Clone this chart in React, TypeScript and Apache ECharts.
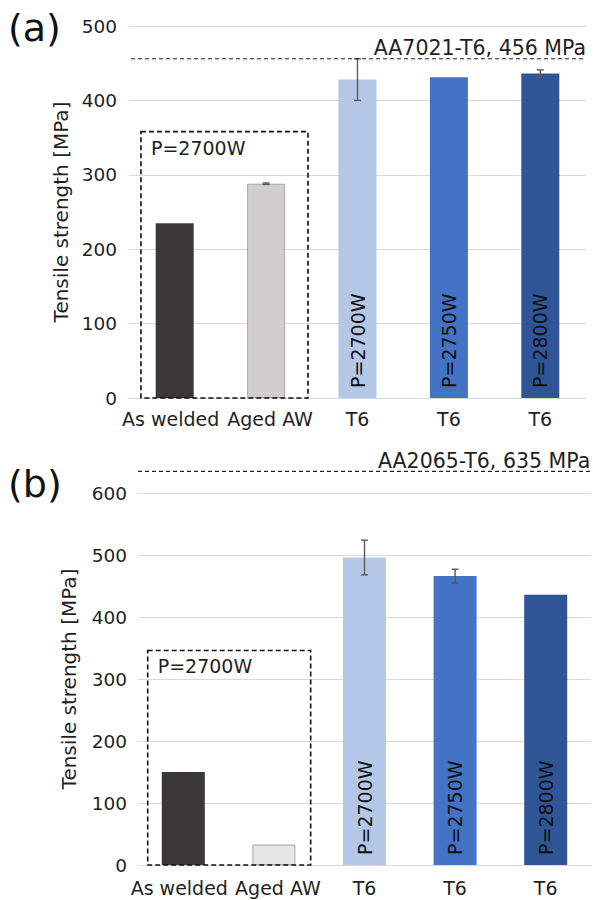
import React, { useEffect, useRef } from "react";
import * as echarts from "echarts";

// ---- data ----
const categoryKeys = ["As welded", "Aged AW", "T6 P=2700W", "T6 P=2750W", "T6 P=2800W"];
const tickLabels = ["As welded", "Aged AW", "T6", "T6", "T6"];
const barLabels = ["", "", "P=2700W", "P=2750W", "P=2800W"];

const valuesA = [235, 288, 428, 431, 436];
const errorsA = [0, 1, 28, 0, 5];
const valuesB = [150, 33, 496, 466, 436];
const errorsB = [0, 0, 28, 11, 0];

const refValueA = 456;
const refLabelA = "AA7021-T6, 456 MPa";
const refValueB = 635;
const refLabelB = "AA2065-T6, 635 MPa";

const yTicksA = { min: 0, max: 500, interval: 100 };
const yTicksB = { min: 0, max: 600, interval: 100 };

const boxLabel = "P=2700W";
const boxTopA = 358;
const boxTopB = 346;

const colorsA = ["#3b3838", "#d0cece", "#b4c7e7", "#4472c4", "#2f5597"];
const colorsB = ["#3b3838", "#e7e6e6", "#b4c7e7", "#4472c4", "#2f5597"];

const FONT = "DejaVu Sans";
const TXT = "#1f1f1f";

// label padding (layout only) to separate the two adjacent long labels
const labelPads = [
  [0, 8, 0, 0],
  [0, 0, 0, 8],
  [0, 0, 0, 0],
  [0, 0, 0, 0],
  [0, 0, 0, 0],
];

function barData(values: number[], colors: string[]) {
  return values.map((v, i) => ({
    value: v,
    itemStyle: {
      color: colors[i],
      borderColor: i === 1 ? "#a6a6a6" : colors[i],
      borderWidth: i === 1 ? 1 : 0,
    },
    label: { show: barLabels[i] !== "", formatter: barLabels[i] },
  }));
}

function errData(values: number[], errs: number[]) {
  const out: number[][] = [];
  values.forEach((v, i) => {
    if (errs[i] > 0) out.push([i, v - errs[i], v + errs[i]]);
  });
  return out;
}

function errRender(params: any, api: any) {
  const x = api.value(0);
  const lo = api.coord([x, api.value(1)]);
  const hi = api.coord([x, api.value(2)]);
  const cx = lo[0];
  const h = 3.5;
  const st = { stroke: "#5a5a5a", lineWidth: 1.4 };
  return {
    type: "group",
    children: [
      { type: "line", shape: { x1: cx, y1: lo[1], x2: cx, y2: hi[1] }, style: st },
      { type: "line", shape: { x1: cx - h, y1: lo[1], x2: cx + h, y2: lo[1] }, style: st },
      { type: "line", shape: { x1: cx - h, y1: hi[1], x2: cx + h, y2: hi[1] }, style: st },
    ],
  };
}

function xAxisCfg(gridIndex: number, margin: number) {
  return {
    type: "category",
    gridIndex,
    data: categoryKeys.map((k, i) => ({ value: k, textStyle: { padding: labelPads[i] } })),
    axisTick: { show: false },
    axisLine: { lineStyle: { color: "#d9d9d9", width: 1 } },
    axisLabel: {
      interval: 0,
      margin,
      fontSize: 19,
      fontFamily: FONT,
      color: TXT,
      formatter: (_v: string, i: number) => tickLabels[i],
    },
  };
}

function yAxisCfg(gridIndex: number, ticks: any, nameGap: number, margin: number) {
  return {
    type: "value",
    gridIndex,
    min: ticks.min,
    max: ticks.max,
    interval: ticks.interval,
    name: "Tensile strength [MPa]",
    nameLocation: "middle",
    nameGap,
    nameTextStyle: { fontSize: 20, fontFamily: FONT, color: TXT },
    axisLine: { show: false },
    axisTick: { show: false },
    splitLine: { lineStyle: { color: "#d9d9d9", width: 1 } },
    axisLabel: { fontSize: 18.5, fontFamily: FONT, color: TXT, margin },
  };
}

const barLabelCfg = {
  position: "insideBottom",
  rotate: 90,
  align: "left",
  verticalAlign: "middle",
  distance: 10,
  fontSize: 19,
  fontFamily: FONT,
  color: "#111111",
};

export default function App() {
  const ref = useRef<HTMLDivElement>(null);
  useEffect(() => {
    if (!ref.current) return;
    const chart = echarts.init(ref.current, undefined, { renderer: "svg" });
    chart.setOption({
      animation: false,
      backgroundColor: "#ffffff",
      grid: [
        { left: 129, top: 26, width: 457, height: 372 },
        { left: 138, top: 493, width: 453, height: 372 },
      ],
      xAxis: [xAxisCfg(0, 11), xAxisCfg(1, 13)],
      yAxis: [yAxisCfg(0, yTicksA, 55, 12), yAxisCfg(1, yTicksB, 59, 11)],
      series: [
        {
          type: "bar",
          xAxisIndex: 0,
          yAxisIndex: 0,
          barWidth: 38,
          data: barData(valuesA, colorsA),
          label: barLabelCfg,
        },
        {
          type: "bar",
          xAxisIndex: 1,
          yAxisIndex: 1,
          barWidth: 43,
          data: barData(valuesB, colorsB),
          label: barLabelCfg,
        },
        {
          type: "custom",
          xAxisIndex: 0,
          yAxisIndex: 0,
          renderItem: errRender,
          encode: { x: 0, y: [1, 2] },
          data: errData(valuesA, errorsA),
          z: 5,
        },
        {
          type: "custom",
          xAxisIndex: 1,
          yAxisIndex: 1,
          renderItem: errRender,
          encode: { x: 0, y: [1, 2] },
          data: errData(valuesB, errorsB),
          z: 5,
        },
      ],
    });

    const px = (axis: number, cat: number) => chart.convertToPixel({ xAxisIndex: axis }, cat) as number;
    const py = (axis: number, v: number) => chart.convertToPixel({ yAxisIndex: axis }, v) as number;

    const graphics: any[] = [];
    const boxes = [
      { ax: 0, top: boxTopA, lf: 0.369, rf: 0.458, gl: 131, gr: 586, ref: refValueA, label: refLabelA, labelAlign: "right", labelX: 586, panel: "(a)", panelY: 28 },
      { ax: 1, top: boxTopB, lf: 0.393, rf: 0.406, gl: 138, gr: 593, ref: refValueB, label: refLabelB, labelAlign: "left", labelX: 378, panel: "(b)", panelY: 484 },
    ];
    boxes.forEach((b) => {
      const c0 = px(b.ax, 0);
      const c1 = px(b.ax, 1);
      const band = c1 - c0;
      const x0 = c0 - b.lf * band;
      const x1 = c1 + b.rf * band;
      const yTop = py(b.ax, b.top);
      const yBot = py(b.ax, 0);
      graphics.push({
        type: "rect",
        shape: { x: x0, y: yTop, width: x1 - x0, height: yBot - yTop },
        style: { fill: "none", stroke: "#111111", lineWidth: 1.6, lineDash: [5, 3] },
        z: 10,
      });
      graphics.push({
        type: "text",
        x: x0 + 10,
        y: yTop + 16,
        style: { text: boxLabel, fontSize: 19, fontFamily: FONT, fill: TXT, align: "left", verticalAlign: "middle" },
        z: 10,
      });
      const ry = py(b.ax, b.ref);
      graphics.push({
        type: "line",
        shape: { x1: b.gl, y1: ry, x2: b.gr, y2: ry },
        style: { stroke: "#222222", lineWidth: 1.2, lineDash: [4, 3] },
        z: 10,
      });
      graphics.push({
        type: "text",
        x: b.labelX,
        y: ry,
        style: { text: b.label, fontSize: 20.5, fontFamily: FONT, fill: TXT, align: b.labelAlign, verticalAlign: "bottom" },
        z: 10,
      });
      graphics.push({
        type: "text",
        x: 8,
        y: b.panelY,
        style: { text: b.panel, fontSize: 38, fontFamily: FONT, fill: "#111111", align: "left", verticalAlign: "middle" },
        z: 10,
      });
    });
    chart.setOption({ graphic: graphics });

    return () => chart.dispose();
  }, []);
  return (
    <div
      ref={ref}
      style={{ position: "absolute", left: 0, top: 0, width: 593, height: 900 }}
    />
  );
}
